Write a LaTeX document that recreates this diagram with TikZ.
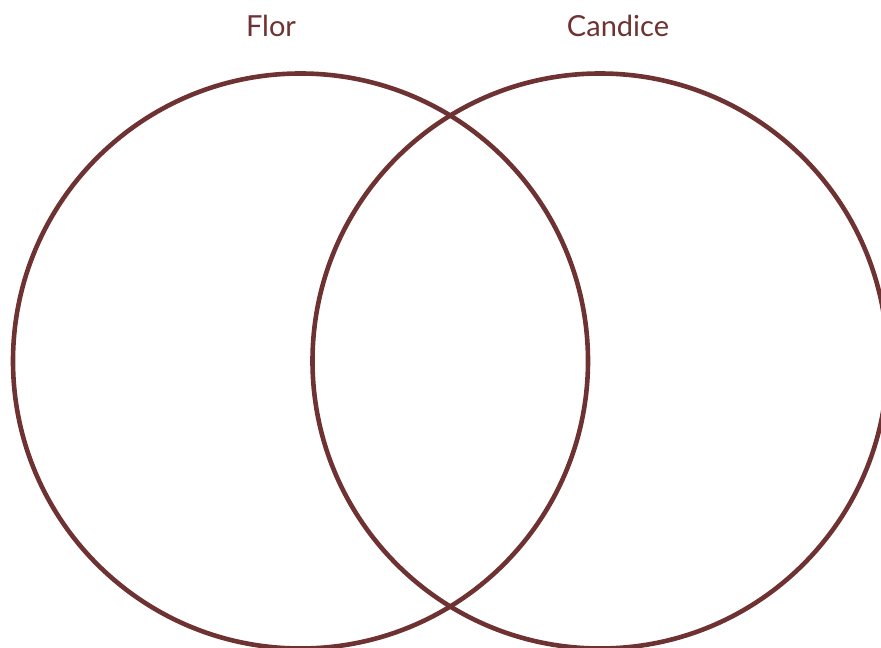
\documentclass[tikz,border=0pt]{standalone}
\usepackage{fontspec}
\setmainfont{Lato}
\usepackage{xcolor}
\definecolor{vennred}{RGB}{110,50,50}

\begin{document}
\begin{tikzpicture}[x=1pt,y=1pt,
  venn/.style={circle,draw=vennred,line width=4.6pt,minimum size=575pt,inner sep=0pt},
  setname/.style={anchor=base,text=vennred,font=\fontsize{29}{32}\selectfont}]
\useasboundingbox (0,0) rectangle (881,648);
\clip (0,0) rectangle (881,648);

\node[venn] (flor) at (300.5,287) {};
\node[venn] (candice) at (600,287) {};

\node[setname] (florname) at (271,611) {Flor};
\node[setname] (candicename) at (618,611) {Candice};
\end{tikzpicture}
\end{document}
